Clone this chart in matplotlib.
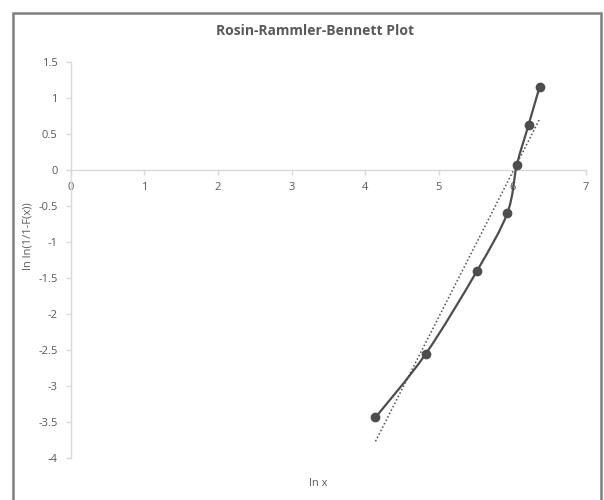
import numpy as np
import matplotlib
matplotlib.use("Agg")
import matplotlib.pyplot as plt
from matplotlib.path import Path
from matplotlib.patches import PathPatch, Rectangle

plt.rcParams['font.family'] = ['Open Sans', 'DejaVu Sans']

# data
ln_x = [4.14, 4.82, 5.52, 5.93, 6.06, 6.22, 6.37]
ln_ln = [-3.44, -2.56, -1.40, -0.60, 0.07, 0.63, 1.16]
x_ticks = [0, 1, 2, 3, 4, 5, 6, 7]
y_ticks = [1.5, 1, 0.5, 0, -0.5, -1, -1.5, -2, -2.5, -3, -3.5, -4]

W, H = 604, 500
fig = plt.figure(figsize=(W / 100, H / 100), dpi=100)
ax = fig.add_axes([70.7 / W, 1 - 457.7 / H, (586 - 70.7) / W, (457.7 - 62.3) / H])

axis_col = '#d9d9d9'
text_col = '#595959'
line_col = '#4d4d4d'

# smoothed line (excel style bezier through the points)
pts = np.column_stack([ln_x, ln_ln])
verts = [tuple(pts[0])]
codes = [Path.MOVETO]
n = len(pts)
for i in range(n - 1):
    p0 = pts[max(i - 1, 0)]
    p1 = pts[i]
    p2 = pts[i + 1]
    p3 = pts[min(i + 2, n - 1)]
    c1 = p1 + (p2 - p0) / 6
    c2 = p2 - (p3 - p1) / 6
    verts += [tuple(c1), tuple(c2), tuple(p2)]
    codes += [Path.CURVE4] * 3
ax.add_patch(PathPatch(Path(verts, codes), facecolor='none', edgecolor=line_col,
                       lw=1.6, zorder=3))
ax.plot(ln_x, ln_ln, ls='none', marker='o', ms=6, color=line_col, zorder=4)

# linear trendline
k, b = np.polyfit(ln_x, ln_ln, 1)
xt = np.array([min(ln_x), max(ln_x)])
ax.plot(xt, k * xt + b, ls=(0, (1, 1.5)), lw=1.1, color=line_col, zorder=2)

ax.set_xlim(0, 7)
ax.set_ylim(-4, 1.5)
ax.set_xticks(x_ticks)
ax.set_yticks(y_ticks)
ax.set_xticklabels([str(t) for t in x_ticks])
ax.set_yticklabels([f'{t:g}' for t in y_ticks])

for s in ['top', 'right']:
    ax.spines[s].set_visible(False)
ax.spines['bottom'].set_position(('data', 0))
ax.spines['left'].set_color(axis_col)
ax.spines['bottom'].set_color(axis_col)
ax.spines['left'].set_linewidth(1.0)
ax.spines['bottom'].set_linewidth(1.0)
ax.tick_params(axis='both', direction='out', length=3.5, width=1.0, color=axis_col,
               labelcolor=text_col, labelsize=8)
ax.tick_params(axis='x', pad=5)
ax.tick_params(axis='y', pad=6)
ax.patch.set_alpha(0)

fig.text(315 / W, 1 - 31 / H, 'Rosin-Rammler-Bennett Plot', ha='center', va='center',
         fontsize=10, fontweight='bold', color=text_col)
fig.text(28 / W, 1 - 236 / H, 'ln ln(1/1-F(x))', ha='center', va='center',
         rotation=90, fontsize=8, color=text_col)
fig.text(318 / W, 1 - 483 / H, 'ln x', ha='center', va='center', fontsize=8,
         color=text_col)

# chart frame
fig.patches.append(Rectangle((13 / W, -0.05), (601 - 13) / W, 1.05 - 13 / H,
                             transform=fig.transFigure, fill=False,
                             edgecolor='#7f7f7f', lw=1.8))

fig.savefig('out.png', dpi=100)
